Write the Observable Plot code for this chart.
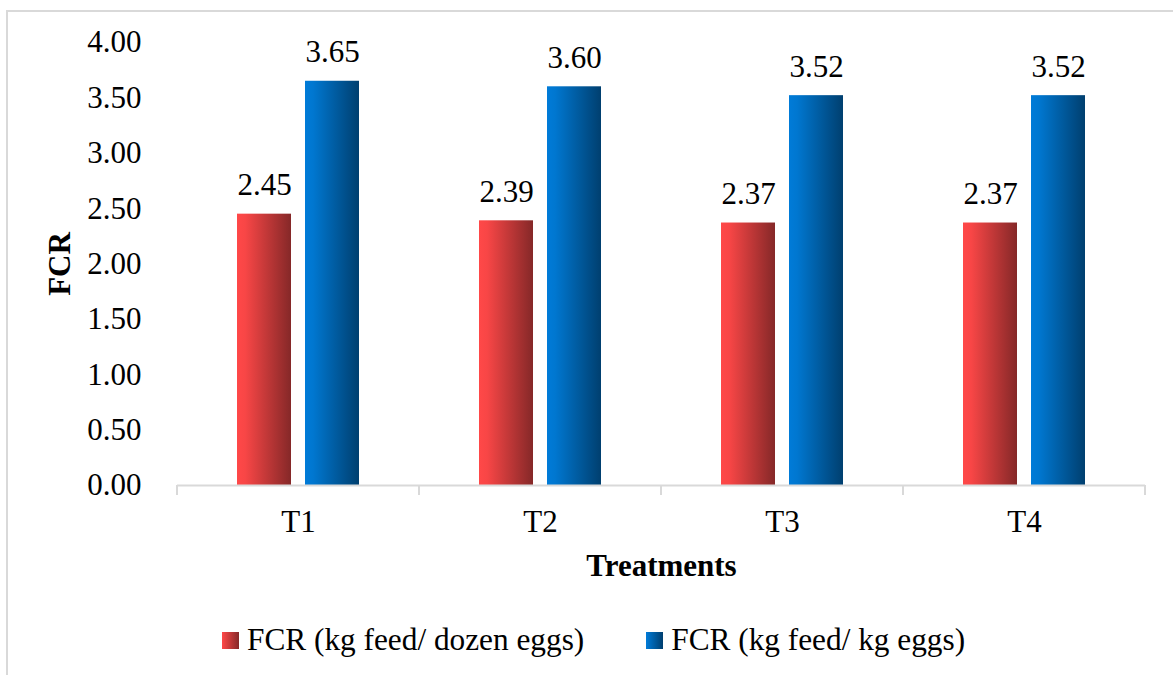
<!DOCTYPE html>
<html>
<head>
<meta charset="utf-8">
<script src="https://cdn.jsdelivr.net/npm/d3@7"></script>
<script src="https://cdn.jsdelivr.net/npm/@observablehq/plot@0.6"></script>
<style>
  html, body { margin: 0; padding: 0; background: #fff; }
  body { width: 1173px; height: 675px; position: relative; overflow: hidden; font-family: "Liberation Serif", "Times New Roman", serif; }
  #border { position: absolute; left: 6px; top: 10px; width: 1200px; height: 700px; border-top: 2px solid #d9d9d9; border-left: 2px solid #d9d9d9; }
  #chart { position: absolute; left: 0; top: 0; }
  #chart svg { overflow: visible; }
  #chart svg text { font-family: "Liberation Serif", "Times New Roman", serif; font-variant: normal; }
  [aria-label="fx-axis label"] text, [aria-label="y-axis label"] text,
  [aria-label="fx-axis label"], [aria-label="y-axis label"] { font-weight: bold; }
  #legend { position: absolute; top: 622px; left: 222px; display: flex; align-items: center; font-size: 31.3px; color: #000; white-space: nowrap; }
  .item { display: flex; align-items: center; }
  .item + .item { margin-left: 62px; }
  .swatch { width: 17px; height: 17px; margin-right: 8px; }
</style>
</head>
<body>
<div id="border"></div>
<div id="chart"></div>
<div id="legend"></div>
<script>
// Feed conversion ratio per treatment
const treatments = ["T1", "T2", "T3", "T4"];
const seriesNames = ["FCR (kg feed/ dozen eggs)", "FCR (kg feed/ kg eggs)"];
const fcrPerDozen = [2.45, 2.39, 2.37, 2.37];
const fcrPerKg = [3.65, 3.60, 3.52, 3.52];
const yTicks = [0, 0.5, 1, 1.5, 2, 2.5, 3, 3.5, 4];

// Bar gradients (light on the left, dark on the right)
const gradients = [
  {id: "grad-red", stops: ["#ff4848", "#f84646", "#852828"]},
  {id: "grad-blue", stops: ["#007bd8", "#0077d0", "#003f6f"]}
];

const rows = treatments.flatMap((t, i) => [
  {treatment: t, series: seriesNames[0], value: fcrPerDozen[i]},
  {treatment: t, series: seriesNames[1], value: fcrPerKg[i]}
]);

const font = "Liberation Serif, Times New Roman, serif";

const chart = Plot.plot({
  width: 1173,
  height: 600,
  marginLeft: 176,
  marginRight: 28,
  marginTop: 42,
  marginBottom: 115,
  style: {fontFamily: font, fontSize: "31px", color: "#000", background: "transparent"},
  fx: {domain: treatments, padding: 0},
  x: {domain: seriesNames, paddingInner: 0.2, paddingOuter: 0.855, axis: null},
  y: {domain: [0, 4]},
  color: {domain: seriesNames, range: gradients.map(g => `url(#${g.id})`)},
  marks: [
    Plot.axisY({ticks: yTicks, tickFormat: d3.format(".2f"), tickSize: 0, tickPadding: 36, fontFamily: font, label: "FCR", labelAnchor: "center", labelOffset: 130, labelArrow: "none"}),
    Plot.axisFx({anchor: "bottom", tickSize: 0, tickPadding: 24, fontFamily: font, label: "Treatments", labelAnchor: "center", labelOffset: 90, labelArrow: "none"}),
    Plot.barY(rows, {fx: "treatment", x: "series", y: "value", fill: "series"}),
    Plot.ruleY([0], {stroke: "#d9d9d9", strokeWidth: 2}),
    Plot.text(rows, {fx: "treatment", x: "series", y: "value", text: d => d.value.toFixed(2), lineAnchor: "bottom", dy: -19, fill: "#000", fontFamily: font})
  ]
});

// Gradient definitions referenced by the bar fills
const svg = d3.select(chart);
const defs = svg.insert("defs", ":first-child");
for (const g of gradients) {
  const lg = defs.append("linearGradient").attr("id", g.id).attr("x1", "0").attr("x2", "1").attr("y1", "0").attr("y2", "0");
  lg.append("stop").attr("offset", "0%").attr("stop-color", g.stops[0]);
  lg.append("stop").attr("offset", "15%").attr("stop-color", g.stops[1]);
  lg.append("stop").attr("offset", "100%").attr("stop-color", g.stops[2]);
}

// Short ticks under the baseline at the category boundaries
const fxScale = chart.scale("fx");
const yScale = chart.scale("y");
const y0 = yScale.apply(0);
const edges = new Set();
for (const t of treatments) {
  const left = fxScale.apply(t);
  edges.add(left);
  edges.add(left + fxScale.bandwidth);
}
const tickG = svg.append("g").attr("stroke", "#d9d9d9").attr("stroke-width", 2);
for (const x of edges) {
  tickG.append("line").attr("x1", x).attr("x2", x).attr("y1", y0).attr("y2", y0 + 10);
}

document.getElementById("chart").appendChild(chart);

// Legend
const legend = d3.select("#legend");
seriesNames.forEach((name, i) => {
  const item = legend.append("div").attr("class", "item");
  item.append("div").attr("class", "swatch")
    .style("background", `linear-gradient(to right, ${gradients[i].stops[0]}, ${gradients[i].stops[2]})`);
  item.append("span").text(name);
});
</script>
</body>
</html>
